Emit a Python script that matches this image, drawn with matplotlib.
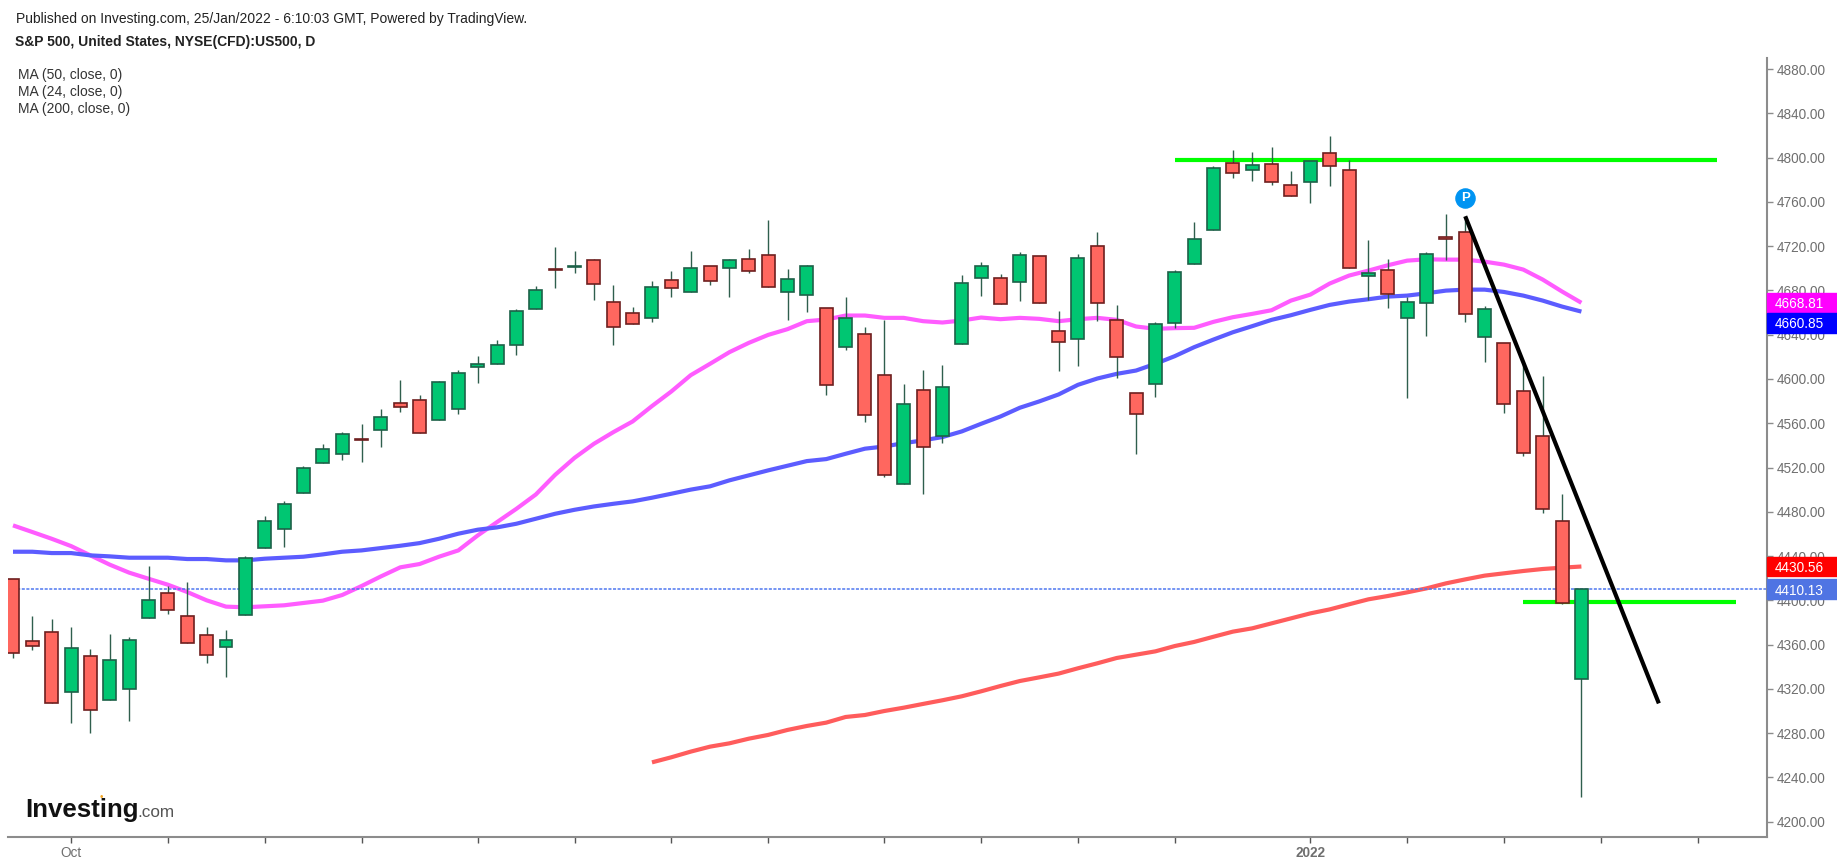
import matplotlib
matplotlib.use("Agg")
import matplotlib.pyplot as plt
from matplotlib.patches import Rectangle

plt.rcParams["font.family"] = ["Liberation Sans", "DejaVu Sans"]

# Candles, one per trading day
opens = [4419.5, 4363.3, 4371.0, 4317.6, 4349.5, 4309.7, 4320.0, 4384.3, 4407.0, 4385.9,
         4368.7, 4358.0, 4386.8, 4447.5, 4464.4, 4497.0, 4524.2, 4532.0, 4546.0, 4553.5,
         4578.4, 4580.8, 4562.8, 4572.7, 4611.2, 4613.3, 4630.5, 4663.0, 4699.4, 4701.0,
         4707.5, 4669.9, 4659.7, 4655.2, 4689.2, 4678.9, 4701.8, 4700.3, 4708.1, 4711.7,
         4678.6, 4675.6, 4664.2, 4629.0, 4640.4, 4603.4, 4505.4, 4589.9, 4548.1, 4631.4,
         4691.3, 4691.3, 4687.7, 4710.8, 4643.1, 4635.9, 4719.8, 4653.1, 4587.5, 4595.3,
         4650.7, 4703.6, 4734.3, 4795.0, 4788.4, 4793.8, 4774.9, 4777.9, 4804.0, 4788.4,
         4693.4, 4698.2, 4655.2, 4668.7, 4728.6, 4733.1, 4638.0, 4632.6, 4588.7, 4548.1,
         4471.7, 4329.0]
closes = [4352.8, 4359.0, 4307.6, 4357.3, 4300.7, 4346.0, 4364.5, 4400.3, 4391.0, 4361.8,
          4350.4, 4364.2, 4438.5, 4471.6, 4487.2, 4520.0, 4536.9, 4550.4, 4545.0, 4566.0,
          4574.8, 4551.4, 4596.8, 4605.8, 4613.6, 4630.5, 4661.2, 4680.0, 4698.2, 4702.0,
          4685.5, 4647.3, 4649.5, 4683.4, 4682.2, 4700.3, 4688.9, 4707.5, 4697.9, 4683.2,
          4690.4, 4701.8, 4594.1, 4655.2, 4567.0, 4512.9, 4577.6, 4538.8, 4592.3, 4686.8,
          4701.8, 4667.5, 4711.7, 4668.7, 4633.5, 4709.6, 4668.7, 4620.0, 4568.2, 4649.5,
          4697.0, 4726.5, 4790.5, 4786.0, 4793.0, 4777.9, 4765.6, 4796.6, 4792.6, 4700.3,
          4695.8, 4676.5, 4669.9, 4712.6, 4726.5, 4658.8, 4663.3, 4577.3, 4533.3, 4482.5,
          4398.0, 4410.13]
highs = [4419.5, 4386.0, 4383.4, 4376.0, 4356.4, 4370.0, 4367.0, 4431.3, 4413.0, 4416.5,
         4376.0, 4373.5, 4440.3, 4476.4, 4489.6, 4521.5, 4541.4, 4552.0, 4559.5, 4573.0,
         4599.2, 4585.6, 4598.0, 4608.2, 4620.5, 4635.3, 4663.3, 4684.0, 4718.9, 4715.6,
         4708.4, 4685.0, 4664.8, 4688.6, 4697.6, 4715.6, 4701.8, 4708.7, 4717.4, 4743.6,
         4699.4, 4703.0, 4664.2, 4673.8, 4646.8, 4653.4, 4595.6, 4608.3, 4612.8, 4694.0,
         4705.4, 4694.9, 4714.4, 4710.8, 4661.2, 4712.9, 4732.5, 4666.9, 4587.5, 4651.3,
         4698.5, 4741.5, 4792.0, 4806.8, 4804.7, 4809.2, 4788.1, 4796.6, 4819.4, 4797.8,
         4725.6, 4708.4, 4673.8, 4714.4, 4749.0, 4746.0, 4665.7, 4632.6, 4613.7, 4602.5,
         4495.7, 4410.13]
lows = [4348.0, 4355.5, 4307.0, 4289.0, 4280.0, 4309.7, 4291.0, 4384.0, 4387.4, 4361.8,
        4343.4, 4330.8, 4386.8, 4447.5, 4448.1, 4497.0, 4524.0, 4527.2, 4524.8, 4538.4,
        4570.0, 4551.0, 4562.8, 4567.9, 4596.0, 4613.3, 4622.0, 4663.0, 4681.9, 4695.5,
        4671.7, 4631.0, 4649.5, 4651.3, 4673.8, 4678.9, 4685.3, 4673.8, 4695.5, 4683.2,
        4653.4, 4660.3, 4585.7, 4626.3, 4561.0, 4511.4, 4505.4, 4495.8, 4542.1, 4631.4,
        4674.7, 4667.5, 4670.2, 4668.7, 4607.3, 4611.9, 4652.8, 4600.7, 4531.8, 4583.6,
        4645.8, 4703.6, 4734.3, 4781.2, 4778.8, 4775.2, 4765.6, 4758.7, 4774.3, 4700.3,
        4671.4, 4663.9, 4582.7, 4638.6, 4707.5, 4651.3, 4615.2, 4569.2, 4530.3, 4478.9,
        4396.5, 4222.6]

# Moving averages
ma24 = [4467.7, 4461.7, 4455.6, 4449.0, 4440.6, 4432.2, 4425.0, 4419.5, 4414.1, 4407.5,
        4400.0, 4394.3, 4393.7, 4394.6, 4395.5, 4397.6, 4399.7, 4404.8, 4412.9, 4421.6,
        4429.8, 4432.8, 4439.4, 4445.1, 4458.6, 4470.7, 4482.7, 4495.6, 4513.4, 4528.7,
        4541.4, 4551.9, 4561.6, 4575.5, 4588.7, 4603.4, 4613.7, 4624.2, 4632.6, 4639.8,
        4645.0, 4652.2, 4653.7, 4657.3, 4657.3, 4655.2, 4655.2, 4652.2, 4651.0, 4652.8,
        4655.5, 4654.0, 4655.2, 4654.3, 4652.2, 4654.0, 4655.2, 4653.4, 4647.4, 4645.3,
        4645.9, 4646.2, 4651.6, 4655.8, 4658.8, 4662.1, 4670.8, 4676.2, 4686.2, 4693.4,
        4697.9, 4702.7, 4706.9, 4708.1, 4707.8, 4707.8, 4706.0, 4703.3, 4698.8, 4689.8,
        4679.0, 4668.81]
ma50 = [4443.9, 4443.9, 4442.7, 4442.7, 4440.6, 4439.7, 4438.5, 4438.5, 4438.5, 4437.3,
        4437.3, 4436.1, 4436.1, 4437.6, 4438.5, 4439.4, 4441.5, 4443.9, 4445.1, 4447.2,
        4449.3, 4451.7, 4455.6, 4460.2, 4463.8, 4465.9, 4469.2, 4473.7, 4478.2, 4481.8,
        4484.8, 4487.2, 4489.4, 4492.7, 4496.3, 4500.0, 4503.0, 4508.4, 4512.9, 4517.4,
        4521.6, 4525.8, 4527.6, 4532.4, 4537.0, 4539.0, 4542.0, 4544.5, 4547.5, 4552.6,
        4559.5, 4566.1, 4574.0, 4579.7, 4586.0, 4594.7, 4600.4, 4604.6, 4607.6, 4613.7,
        4620.6, 4628.7, 4635.6, 4642.2, 4647.7, 4653.4, 4657.6, 4662.4, 4666.9, 4669.9,
        4672.0, 4674.4, 4675.3, 4677.4, 4679.8, 4680.7, 4680.7, 4678.6, 4675.3, 4670.8,
        4665.4, 4660.85]
# 200 day line only starts at day 33
ma200_start = 33
ma200 = [4253.6, 4258.2, 4263.3, 4267.8, 4270.8, 4275.0, 4278.4, 4282.9, 4286.5, 4289.5,
         4294.6, 4296.4, 4300.0, 4303.0, 4306.4, 4309.7, 4313.3, 4317.8, 4322.6, 4327.1,
         4330.4, 4333.8, 4338.6, 4343.1, 4347.9, 4350.9, 4353.9, 4358.7, 4362.4, 4367.1,
         4371.7, 4374.7, 4379.2, 4383.7, 4388.2, 4391.8, 4396.4, 4400.9, 4403.9, 4407.2,
         4410.8, 4415.3, 4418.9, 4422.3, 4424.4, 4426.5, 4428.3, 4429.5, 4430.56]

last_close = 4410.13

# Hand drawn lines on the chart
resistance_x = [60, 88]
resistance_y = [4797.6, 4797.6]
support_x = [78, 89]
support_y = [4398.5, 4398.5]
trend_x = [75, 85]
trend_y = [4747.0, 4306.9]

y_ticks = [4200, 4240, 4280, 4320, 4360, 4400, 4440, 4480, 4520, 4560, 4600, 4640, 4680,
           4720, 4760, 4800, 4840, 4880]
x_ticks = [3, 8, 13, 18, 24, 29, 34, 39, 45, 50, 55, 60, 67, 72, 77, 82, 87]
x_labels = {3: "Oct", 67: "2022"}

W, H = 1837, 866
GREEN = "#00c672"
RED = "#ff675f"
GREY = "#8c8c8c"
TEXT = "#6f6f6f"

fig = plt.figure(figsize=(W / 100, H / 100), dpi=100)
ax = fig.add_axes([8 / W, (H - 837.3) / H, 1758.7 / W, 779 / H])
ax.set_xlim(-0.258, 90.57)
ax.set_ylim(4185.9, 4889.7)

for side in ["top", "left"]:
    ax.spines[side].set_visible(False)
for side in ["right", "bottom"]:
    ax.spines[side].set_color(GREY)
    ax.spines[side].set_linewidth(1.5)

# Moving averages and drawings go under the candles
days = list(range(len(closes)))
ax.plot(resistance_x, resistance_y, color="#00ff00", lw=3, solid_capstyle="butt", zorder=1)
ax.plot(support_x, support_y, color="#00ff00", lw=3, solid_capstyle="butt", zorder=1)
ax.plot(days, ma24, color="#ff5cff", lw=3, solid_capstyle="butt", zorder=2)
ax.plot(days, ma50, color="#5c5cff", lw=3, solid_capstyle="butt", zorder=2)
ax.plot(days[ma200_start:], ma200, color="#ff5c5c", lw=3, solid_capstyle="butt", zorder=2)
ax.axhline(last_close, color="#4f78f0", lw=1.1, ls=(0, (2, 1)), zorder=2.5)

# Candles
body_colors = [GREEN if c >= o else RED for o, c in zip(opens, closes)]
edge_colors = ["#1d6148" if c >= o else "#6e1f1f" for o, c in zip(opens, closes)]
bottoms = [min(o, c) for o, c in zip(opens, closes)]
sizes = [abs(o - c) for o, c in zip(opens, closes)]
ax.vlines(days, lows, highs, color="#2f5f4d", lw=1, zorder=3)
ax.bar(days, sizes, bottom=bottoms, width=0.67, color=body_colors, edgecolor=edge_colors,
       linewidth=1.2, zorder=4)

ax.plot(trend_x, trend_y, color="black", lw=3, solid_capstyle="butt", zorder=5)

# Pin above the trend line
ax.scatter([75], [4763.5], s=190, color="#0094f2", zorder=6)
ax.text(75, 4763.5, "P", color="white", fontsize=9.5, fontweight="bold", ha="center",
        va="center", zorder=7)

# Axes ticks
ax.yaxis.tick_right()
ax.set_yticks(y_ticks)
ax.set_yticklabels(["%.2f" % v for v in y_ticks], fontsize=9.8, color=TEXT)
ax.tick_params(axis="y", length=4, width=1, color=GREY, pad=3)
ax.set_xticks(x_ticks)
ax.set_xticklabels([x_labels.get(t, "") for t in x_ticks], fontsize=9.8, color=TEXT)
ax.tick_params(axis="x", length=4, width=1, color="#555555", pad=2)
for lab in ax.get_xticklabels():
    if lab.get_text() == "2022":
        lab.set_fontweight("bold")

# Price tags on the right axis
tags = [(4668.81, 4668.81, "#ff00ff"), (4660.85, 4650.9, "#0000ff"),
        (4430.56, 4430.56, "#ff0000"), (4410.13, 4410.13, "#4f74e3")]
trans = ax.get_yaxis_transform()
for value, centre, color in tags:
    ax.add_patch(Rectangle((1, centre - 9), 0.04, 18, transform=trans, color=color,
                           clip_on=False, zorder=8))
    ax.text(1.0187, centre, "%.2f" % value, transform=trans, color="white", fontsize=9.8,
            ha="center", va="center_baseline", zorder=9)

# Header texts
def put_text(x, y, s, **kw):
    fig.text(x / W, 1 - y / H, s, va="center", **kw)

put_text(15.5, 18.7, "Published on Investing.com, 25/Jan/2022 - 6:10:03 GMT, Powered by TradingView.",
         fontsize=10, color="#222222")
put_text(15, 42, "S&P 500, United States, NYSE(CFD):US500, D", fontsize=10,
         fontweight="bold", color="#222222")
put_text(18, 74.7, "MA (50, close, 0)", fontsize=10, color="#333333")
put_text(18, 91.7, "MA (24, close, 0)", fontsize=10, color="#333333")
put_text(18, 108.7, "MA (200, close, 0)", fontsize=10, color="#333333")

# Logo
fig.text(25 / W, 1 - 816.7 / H, "Investing", fontsize=18.6, fontweight="bold", color="#111111",
         va="baseline")
fig.text(137 / W, 1 - 816.7 / H, ".com", fontsize=12.3, color="#555555", va="baseline")
fig.text(101.5 / W, 1 - 797.5 / H, "\u2022", fontsize=7, color="#f5a623", ha="center", va="center")

fig.savefig("out.png", dpi=100)
